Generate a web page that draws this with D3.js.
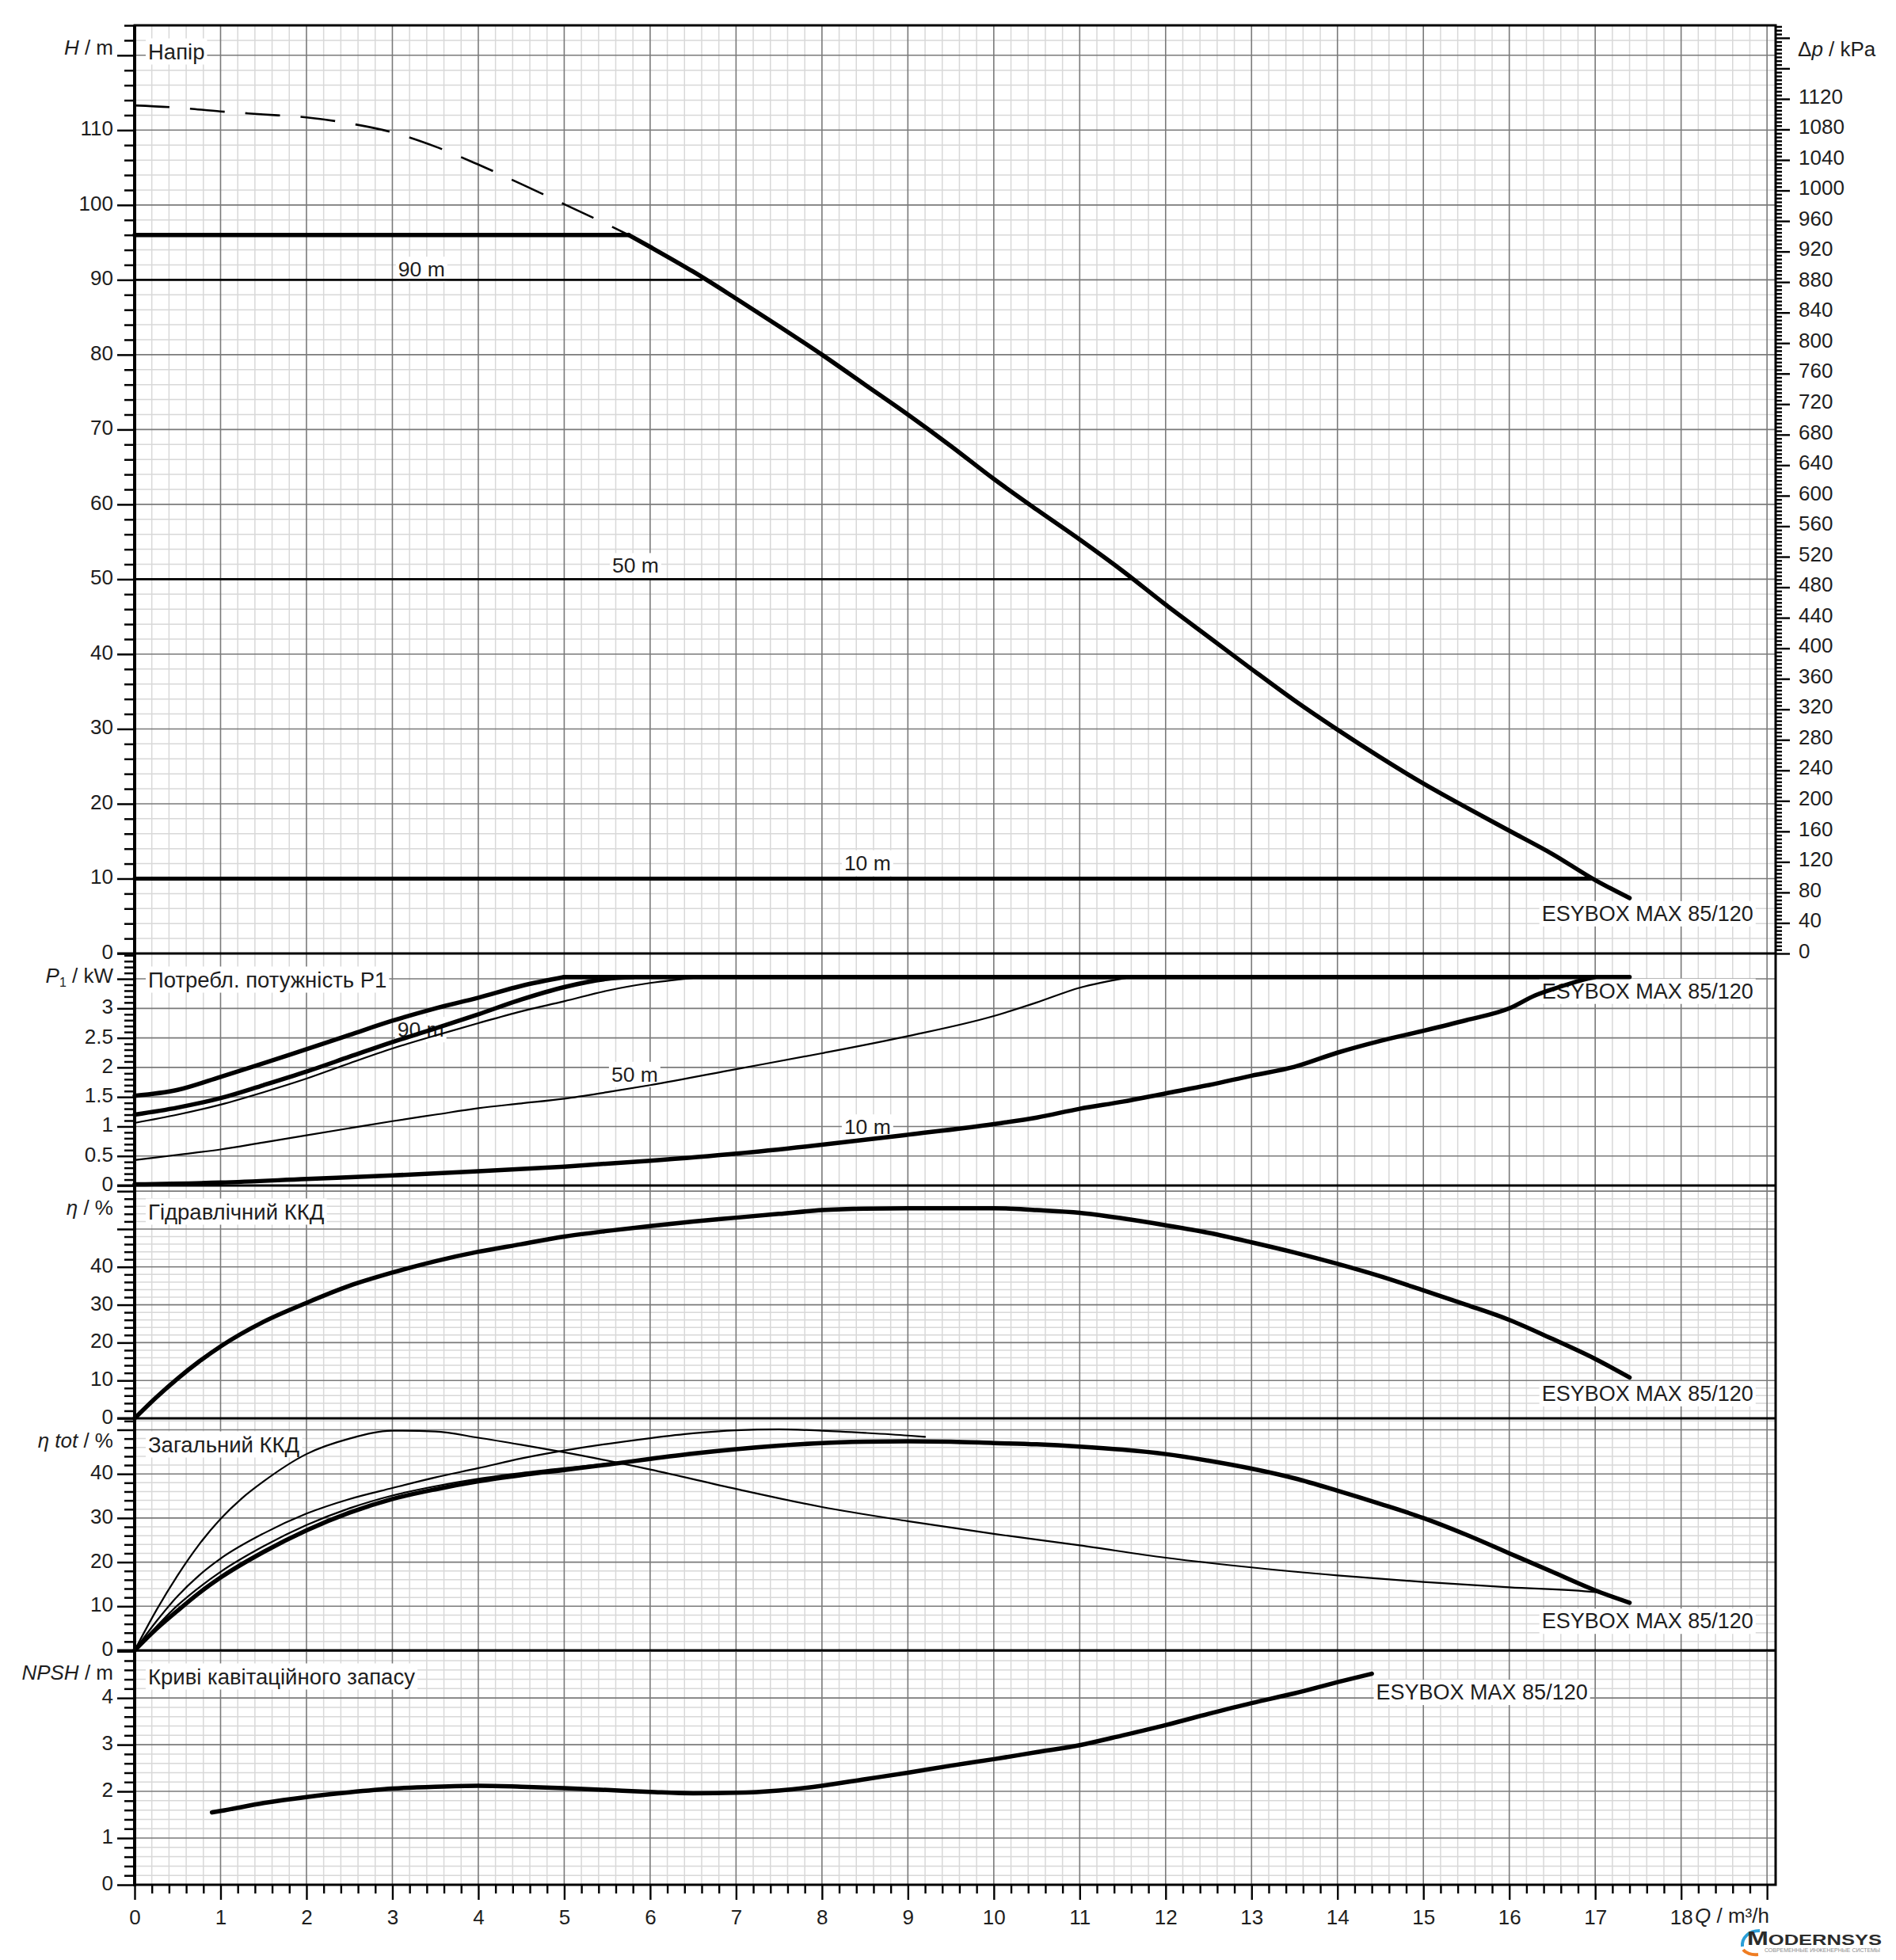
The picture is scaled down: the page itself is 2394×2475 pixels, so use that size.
<!DOCTYPE html>
<html>
<head>
<meta charset="utf-8">
<script src="https://cdn.jsdelivr.net/npm/d3@7"></script>
<style>
  body { margin: 0; background: #fff; }
  svg { display: block; font-family: "Liberation Sans", Arial, sans-serif; }
</style>
</head>
<body>
<div id="chart"></div>
<script>
"use strict";

// ---- data (Q in m3/h) ----
const flowLabels = [0, 1, 2, 3, 4, 5, 6, 7, 8, 9, 10, 11, 12, 13, 14, 15, 16, 17, 18];

const headLabels = [0, 10, 20, 30, 40, 50, 60, 70, 80, 90, 100, 110];
const pressureLabels = [0, 40, 80, 120, 160, 200, 240, 280, 320, 360, 400, 440, 480, 520, 560,
  600, 640, 680, 720, 760, 800, 840, 880, 920, 960, 1000, 1040, 1080, 1120];
const powerLabels = [0, 0.5, 1, 1.5, 2, 2.5, 3];
const effLabels = [0, 10, 20, 30, 40];
const effTotLabels = [0, 10, 20, 30, 40];
const npshLabels = [0, 1, 2, 3, 4];

// H / m
const headDashed = [[0, 113.3], [0.5, 113], [1, 112.5], [1.5, 112.1], [2, 111.7], [2.5, 110.9],
  [3, 109.7], [3.5, 107.8], [4, 105.4], [4.5, 102.8], [5, 100.1], [5.5, 97.4], [5.75, 96]];
const headLimit = [[0, 96], [5.75, 96]];
const head90 = [[0, 90], [6.6, 90]];
const head50 = [[0, 50], [11.6, 50]];
const head10 = [[0, 10], [16.95, 10]];
const headMain = [[5.75, 96], [6, 94.4], [6.5, 91.1], [7, 87.5], [7.5, 83.8], [8, 80],
  [8.5, 76], [9, 72], [9.5, 67.8], [10, 63.4], [10.5, 59.3], [11, 55.3], [11.5, 51.1],
  [12, 46.6], [12.5, 42.3], [13, 38], [13.5, 33.8], [14, 29.9], [14.5, 26.2], [15, 22.7],
  [15.5, 19.5], [16, 16.4], [16.5, 13.3], [17, 9.8], [17.4, 7.4]];

// P1 / kW
const powerMax = [[0, 1.52], [0.5, 1.62], [1, 1.84], [1.5, 2.07], [2, 2.31], [2.5, 2.55], [3, 2.79],
  [3.5, 3.0], [4, 3.18], [4.5, 3.38], [5, 3.53]];
const powerLimitCurve = [[0, 1.2], [0.5, 1.32], [1, 1.48], [1.5, 1.7], [2, 1.93], [2.5, 2.18],
  [3, 2.43], [3.5, 2.66], [4, 2.9], [4.5, 3.15], [5, 3.36], [5.5, 3.5], [5.8, 3.53]];
const power90 = [[0, 1.06], [0.5, 1.2], [1, 1.37], [1.5, 1.58], [2, 1.81], [2.5, 2.07], [3, 2.32],
  [3.5, 2.54], [4, 2.75], [4.5, 2.95], [5, 3.12], [5.5, 3.3], [6, 3.43], [6.6, 3.53]];
const power50 = [[0, 0.43], [0.5, 0.52], [1, 0.61], [1.5, 0.73], [2, 0.85], [2.5, 0.97], [3, 1.09],
  [3.5, 1.2], [4, 1.31], [4.5, 1.39], [5, 1.47], [5.5, 1.58], [6, 1.7], [7, 1.97], [8, 2.24],
  [9, 2.53], [10, 2.87], [10.5, 3.1], [11, 3.35], [11.6, 3.53]];
const power10 = [[0, 0.02], [1, 0.05], [2, 0.11], [3, 0.17], [4, 0.24], [5, 0.32], [6, 0.42],
  [7, 0.54], [8, 0.69], [9, 0.86], [10, 1.04], [10.5, 1.15], [11, 1.3], [11.5, 1.42], [12, 1.56],
  [12.5, 1.7], [13, 1.86], [13.5, 2.01], [14, 2.25], [14.5, 2.45], [15, 2.62], [15.5, 2.8],
  [16, 3.0], [16.3, 3.22], [16.6, 3.37], [16.9, 3.5], [17.0, 3.53]];
const powerCap = [[5, 3.53], [17.4, 3.53]];

// hydraulic efficiency, %
const effHydr = [[0, 0], [0.25, 5.5], [0.5, 10.5], [0.75, 15], [1, 19], [1.5, 25.5], [2, 30.5],
  [2.5, 35], [3, 38.5], [3.5, 41.5], [4, 44], [4.5, 46], [5, 48], [5.5, 49.5], [6, 50.8], [6.5, 52],
  [7, 53], [7.5, 54], [8, 55], [8.5, 55.4], [9, 55.5], [10, 55.5], [10.5, 55], [11, 54.3],
  [11.5, 52.8], [12, 51], [12.5, 49], [13, 46.5], [13.5, 43.8], [14, 40.8], [14.5, 37.5],
  [15, 33.8], [15.5, 30], [16, 26], [16.5, 21], [17, 15.7], [17.4, 10.8]];

// total efficiency, %
const effTotMain = [[0, 0], [0.25, 4.8], [0.5, 9], [0.75, 13], [1, 16.5], [1.5, 22.3], [2, 27.2],
  [2.5, 31.2], [3, 34.3], [3.5, 36.5], [4, 38.3], [4.5, 39.7], [5, 40.9], [5.5, 42.1], [6, 43.4],
  [6.5, 44.6], [7, 45.6], [7.5, 46.4], [8, 47], [8.5, 47.3], [9, 47.4], [9.5, 47.3], [10, 47],
  [10.5, 46.7], [11, 46.2], [11.5, 45.5], [12, 44.5], [12.5, 43], [13, 41.2], [13.5, 39], [14, 36.2],
  [14.5, 33.2], [15, 30], [15.5, 26.2], [16, 22], [16.5, 17.8], [17, 13.6], [17.4, 10.8]];
const effTot90 = [[0, 0], [0.5, 10.2], [1, 17.8], [1.5, 23.6], [2, 28.4], [2.5, 32.2], [3, 35.1],
  [3.5, 37.2], [4, 38.9], [4.5, 40.2], [5, 41.3], [5.5, 42.3]];
const effTot50 = [[0, 0], [0.25, 6.5], [0.5, 12.3], [0.75, 17], [1, 20.8], [1.5, 26.5], [2, 31],
  [2.5, 34.3], [3, 36.8], [3.5, 39.2], [4, 41.3], [4.5, 43.5], [5, 45.3], [5.5, 46.8], [6, 48.1],
  [6.5, 49.2], [7, 49.9], [7.5, 50.1], [8, 49.8], [8.5, 49.3], [9, 48.7], [9.2, 48.4]];
const effTot10 = [[0, 0], [0.25, 9], [0.5, 17], [0.75, 24], [1, 29.8], [1.25, 34.5], [1.5, 38.3],
  [2, 44.5], [2.5, 48], [3, 49.8], [3.5, 49.6], [4, 48.2], [4.5, 46.6], [5, 44.9], [6, 41],
  [7, 36.6], [8, 32.5], [9, 29.3], [10, 26.4], [11, 23.8], [12, 21], [13, 18.8], [14, 17],
  [15, 15.5], [16, 14.3], [17, 13.2], [17.4, 10.9]];

// NPSH / m
const npshCurve = [[0.9, 1.55], [1, 1.58], [1.5, 1.75], [2, 1.88], [2.5, 1.98], [3, 2.06], [3.5, 2.1],
  [4, 2.12], [4.5, 2.1], [5, 2.07], [5.5, 2.03], [6, 1.99], [6.5, 1.96], [7, 1.97], [7.5, 2.02],
  [8, 2.12], [8.5, 2.26], [9, 2.4], [9.5, 2.55], [10, 2.69], [10.5, 2.84], [11, 2.99], [11.5, 3.2],
  [12, 3.42], [12.5, 3.66], [13, 3.89], [13.5, 4.1], [14, 4.34], [14.4, 4.52]];

const PUMP = "ESYBOX MAX 85/120";

// ---- layout ----
const W = 2394, H = 2475;
const left = 170, right = 2242;
const KPA_PER_M = 9.81;
const TEXT = "#1e1e1e";
const GRID_MINOR = "#d8d8d8";
const GRID_MAJOR = "#7a7a7a";

const xScale = d3.scaleLinear().domain([0, 19.1]).range([left, right]);

const panels = [
  { id: "head", top: 32, bottom: 1204, max: 124, major: 10, minor: 2, minorGrid: true,
    labels: headLabels, title: "Напір", axisTitle: [["H", "i"], [" / m", ""]] },
  { id: "power", top: 1204, bottom: 1497, max: 3.93, major: 0.5, minor: 0.1, minorGrid: false,
    labels: powerLabels, title: "Потребл. потужність P1",
    axisTitle: [["P", "i"], ["1", "sub"], [" / kW", ""]] },
  { id: "eff", top: 1497, bottom: 1791, max: 61.5, major: 10, minor: 2, minorGrid: true,
    labels: effLabels, title: "Гідравлічний ККД", axisTitle: [["η", "i"], [" / %", ""]] },
  { id: "effTot", top: 1791, bottom: 2084, max: 52.6, major: 10, minor: 2, minorGrid: true,
    labels: effTotLabels, title: "Загальний ККД", axisTitle: [["η tot", "i"], [" / %", ""]] },
  { id: "npsh", top: 2084, bottom: 2380, max: 5.02, major: 1, minor: 0.2, minorGrid: true,
    labels: npshLabels, title: "Криві кавітаційного запасу", axisTitle: [["NPSH", "i"], [" / m", ""]] }
];

function steps(max, step) {
  const n = Math.floor(max / step + 1e-6);
  return d3.range(0, n + 1).map(i => +(i * step).toFixed(4));
}

function isMultiple(v, step) {
  const r = v / step;
  return Math.abs(r - Math.round(r)) < 1e-6;
}

function addText(g, x, y, str, opts) {
  const o = Object.assign({ anchor: "start", size: 25, bg: false }, opts || {});
  const t = g.append("text")
    .attr("x", x)
    .attr("y", y)
    .attr("text-anchor", o.anchor)
    .attr("dominant-baseline", "central")
    .attr("font-size", o.size)
    .attr("fill", TEXT)
    .text(str);
  if (o.bg) {
    const b = t.node().getBBox();
    g.insert("rect", () => t.node())
      .attr("x", b.x - 3).attr("y", b.y - 1)
      .attr("width", b.width + 6).attr("height", b.height + 2)
      .attr("fill", "#fff");
  }
  return t;
}

function addRichText(g, x, y, parts, anchor) {
  const t = g.append("text")
    .attr("x", x)
    .attr("y", y)
    .attr("text-anchor", anchor)
    .attr("dominant-baseline", "central")
    .attr("font-size", 26)
    .attr("fill", TEXT);
  parts.forEach(([s, style]) => {
    const ts = t.append("tspan").text(s);
    if (style === "i") ts.attr("font-style", "italic");
    if (style === "sub") ts.attr("font-size", 16).attr("baseline-shift", "sub");
  });
  return t;
}

function styleAxis(g) {
  g.select(".domain").remove();
  g.selectAll("line").attr("stroke", "#000").attr("stroke-width", 2.5);
  g.selectAll("text")
    .attr("font-size", 26)
    .attr("font-family", "Liberation Sans, Arial, sans-serif")
    .attr("fill", TEXT);
}

function gridLines(g, data, vertical, p, y, color, width) {
  g.append("g").selectAll("line")
    .data(data)
    .enter().append("line")
    .attr("x1", d => vertical ? xScale(d) : left)
    .attr("x2", d => vertical ? xScale(d) : right)
    .attr("y1", d => vertical ? p.top : y(d))
    .attr("y2", d => vertical ? p.bottom : y(d))
    .attr("stroke", color)
    .attr("stroke-width", width);
}

function draw() {
  const svg = d3.select("#chart")
    .append("svg")
    .attr("width", W)
    .attr("height", H);

  svg.append("rect").attr("width", W).attr("height", H).attr("fill", "#fff");

  const gridG = svg.append("g");
  const labelG = svg.append("g");
  const curveG = svg.append("g").attr("fill", "none").attr("stroke", "#000")
    .attr("stroke-linejoin", "round").attr("stroke-linecap", "round");
  const axisG = svg.append("g");

  const scales = {};
  panels.forEach(p => {
    scales[p.id] = d3.scaleLinear().domain([0, p.max]).range([p.bottom, p.top]);
  });

  // grid
  const flowGrid = steps(19.1, 0.2).filter(v => v > 0);
  panels.forEach(p => {
    const y = scales[p.id];
    const hv = steps(p.max, p.minor).filter(v => v > 0);
    gridLines(gridG, flowGrid.filter(v => !isMultiple(v, 1)), true, p, y, GRID_MINOR, 1.5);
    if (p.minorGrid) {
      gridLines(gridG, hv.filter(v => !isMultiple(v, p.major)), false, p, y, GRID_MINOR, 1.5);
    }
    gridLines(gridG, flowGrid.filter(v => isMultiple(v, 1)), true, p, y, GRID_MAJOR, 1.6);
    gridLines(gridG, hv.filter(v => isMultiple(v, p.major)), false, p, y, GRID_MAJOR, 1.6);
  });

  // panel titles
  panels.forEach(p => {
    addText(labelG, 187, p.top + 33, p.title, { bg: true, size: 27.5 });
  });

  const yH = scales.head, yP = scales.power, yE = scales.eff, yT = scales.effTot, yN = scales.npsh;

  // curve labels
  addText(labelG, xScale(3.34), yH(91.4), "90 m", { anchor: "middle", size: 26.5, bg: true });
  addText(labelG, xScale(5.83), yH(51.8), "50 m", { anchor: "middle", size: 26.5, bg: true });
  addText(labelG, xScale(8.53), yH(12.1), "10 m", { anchor: "middle", size: 26.5, bg: true });
  addText(labelG, xScale(18.84), yH(5.3), PUMP, { anchor: "end", size: 27, bg: true });

  addText(labelG, xScale(3.33), yP(2.64), "90 m", { anchor: "middle", size: 26.5, bg: true });
  addText(labelG, xScale(5.82), yP(1.88), "50 m", { anchor: "middle", size: 26.5, bg: true });
  addText(labelG, xScale(8.53), yP(0.99), "10 m", { anchor: "middle", size: 26.5, bg: true });
  addText(labelG, xScale(18.84), yP(3.29), PUMP, { anchor: "end", size: 27, bg: true });

  addText(labelG, xScale(18.84), yE(6.5), PUMP, { anchor: "end", size: 27, bg: true });
  addText(labelG, xScale(18.84), yT(6.6), PUMP, { anchor: "end", size: 27, bg: true });
  addText(labelG, xScale(14.45), yN(4.12), PUMP, { anchor: "start", size: 27, bg: true });

  // curves
  const line = y => d3.line()
    .x(d => xScale(d[0]))
    .y(d => y(d[1]))
    .curve(d3.curveMonotoneX);

  function curve(data, y, width, dash) {
    const path = curveG.append("path")
      .datum(data)
      .attr("d", line(y))
      .attr("stroke-width", width);
    if (dash) path.attr("stroke-dasharray", dash).attr("stroke-linecap", "butt");
  }

  curve(headDashed, yH, 2.6, "44 26");
  curve(head90, yH, 2.6);
  curve(head50, yH, 2.6);
  curve(head10, yH, 5);
  curve(headLimit, yH, 5.5);
  curve(headMain, yH, 5.5);

  curve(power90, yP, 2.2);
  curve(power50, yP, 2.2);
  curve(powerLimitCurve, yP, 5.5);
  curve(powerMax, yP, 5.5);
  curve(power10, yP, 5.5);
  curve(powerCap, yP, 5.5);

  curve(effHydr, yE, 5.5);

  curve(effTot10, yT, 2.2);
  curve(effTot50, yT, 2.2);
  curve(effTot90, yT, 2.2);
  curve(effTotMain, yT, 5.5);

  curve(npshCurve, yN, 5.5);

  // left axes
  panels.forEach(p => {
    const y = scales[p.id];
    const minorAxis = d3.axisLeft(y)
      .tickValues(steps(p.max, p.minor).filter(v => !isMultiple(v, p.major)))
      .tickSize(13)
      .tickFormat("");
    const majorAxis = d3.axisLeft(y)
      .tickValues(steps(p.max, p.major))
      .tickSize(22)
      .tickPadding(5)
      .tickFormat(v => p.labels.indexOf(v) >= 0 ? String(v) : "");
    [minorAxis, majorAxis].forEach(ax => {
      const g = axisG.append("g")
        .attr("transform", `translate(${left},0)`)
        .call(ax);
      styleAxis(g);
      g.selectAll("text").attr("dy", "0.25em");
    });
    addRichText(axisG, 143, p.top + 28, p.axisTitle, "end");
  });

  // right pressure axis on the head panel
  const kpaMax = 124 * KPA_PER_M;
  const yKpa = d3.scaleLinear().domain([0, kpaMax]).range([1204, 32]);
  const kpaMinor = d3.axisRight(yKpa)
    .tickValues(steps(kpaMax, 5).filter(v => !isMultiple(v, 40)))
    .tickSize(8)
    .tickFormat("");
  const kpaMajor = d3.axisRight(yKpa)
    .tickValues(steps(kpaMax, 40))
    .tickSize(18)
    .tickPadding(11)
    .tickFormat(v => pressureLabels.indexOf(v) >= 0 ? String(v) : "");
  [kpaMinor, kpaMajor].forEach(ax => {
    const g = axisG.append("g")
      .attr("transform", `translate(${right},0)`)
      .call(ax);
    styleAxis(g);
    g.selectAll("line").attr("stroke-width", 2.4);
    g.selectAll("text").attr("dy", "0.2em");
  });
  addRichText(axisG, 2270, 62, [["Δ", ""], ["p", "i"], [" / kPa", ""]], "start");

  // bottom flow axis
  const flowMinorAxis = d3.axisBottom(xScale)
    .tickValues(steps(19, 0.2).filter(v => !isMultiple(v, 1)))
    .tickSize(11)
    .tickFormat("");
  const flowMajorAxis = d3.axisBottom(xScale)
    .tickValues(steps(19, 1))
    .tickSize(19)
    .tickPadding(13)
    .tickFormat(v => flowLabels.indexOf(v) >= 0 ? String(v) : "");
  [flowMinorAxis, flowMajorAxis].forEach(ax => {
    const g = axisG.append("g")
      .attr("transform", `translate(0,${panels[4].bottom})`)
      .call(ax);
    styleAxis(g);
    g.selectAll("line").attr("stroke-width", 2.4);
  });
  addRichText(axisG, 2140, 2419, [["Q", "i"], [" / m³/h", ""]], "start");

  // frame and panel separators
  axisG.append("rect")
    .attr("x", left).attr("y", panels[0].top)
    .attr("width", right - left).attr("height", panels[4].bottom - panels[0].top)
    .attr("fill", "none").attr("stroke", "#000").attr("stroke-width", 3);
  axisG.append("g").selectAll("line")
    .data(panels.slice(0, 4))
    .enter().append("line")
    .attr("x1", left - 22).attr("x2", right)
    .attr("y1", d => d.bottom).attr("y2", d => d.bottom)
    .attr("stroke", "#000").attr("stroke-width", 3);
  axisG.append("line")
    .attr("x1", left).attr("x2", left)
    .attr("y1", panels[0].top).attr("y2", panels[4].bottom + 2)
    .attr("stroke", "#000").attr("stroke-width", 4);

  drawLogo(svg);
}

function drawLogo(svg) {
  const g = svg.append("g");
  g.append("path")
    .attr("d", "M2222,2438 C2208,2438 2199,2447 2200,2458")
    .attr("fill", "none").attr("stroke", "#2a9fd8").attr("stroke-width", 4);
  g.append("path")
    .attr("d", "M2201,2462 C2204,2466 2211,2469 2220,2468");
  g.select("path:last-child")
    .attr("fill", "none").attr("stroke", "#ef7d22").attr("stroke-width", 4);
  const t = g.append("text")
    .attr("x", 2206).attr("y", 2456)
    .attr("font-size", 19)
    .attr("font-weight", "bold")
    .attr("fill", "#2b2b2b")
    .attr("textLength", 170)
    .attr("lengthAdjust", "spacingAndGlyphs");
  t.append("tspan").attr("font-size", 24).text("M");
  t.append("tspan").text("ODERNSYS");
  g.append("text")
    .attr("x", 2228).attr("y", 2465)
    .attr("font-size", 7.5)
    .attr("fill", "#8a8a8a")
    .attr("textLength", 146)
    .attr("lengthAdjust", "spacingAndGlyphs")
    .text("СОВРЕМЕННЫЕ ИНЖЕНЕРНЫЕ СИСТЕМЫ");
}

draw();
</script>
</body>
</html>
